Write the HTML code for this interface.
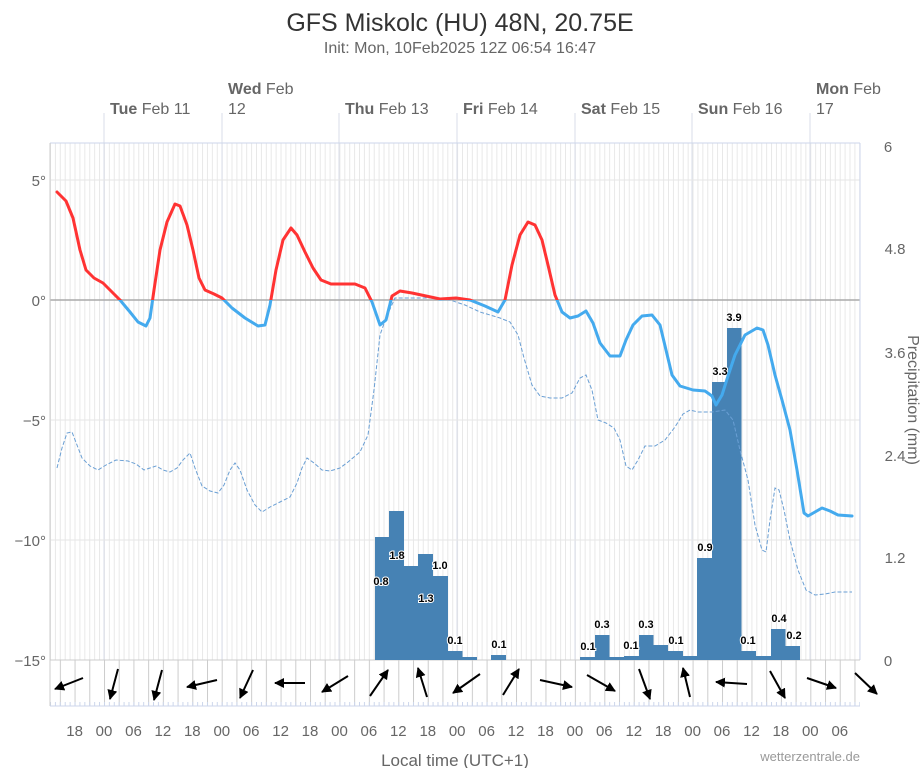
<!DOCTYPE html><html><head><meta charset="utf-8"><style>body{margin:0;background:#fff}svg{display:block;font-family:"Liberation Sans",sans-serif}</style></head><body>
<svg width="921" height="768" xmlns="http://www.w3.org/2000/svg">
<defs>
<clipPath id="above"><rect x="0" y="0" width="921" height="300"/></clipPath>
<clipPath id="below"><rect x="0" y="300" width="921" height="400"/></clipPath>
<marker id="ah" viewBox="0 0 10 10" refX="9" refY="5" markerWidth="5" markerHeight="5" orient="auto"><path d="M0,0 L10,5 L0,10 z" fill="#000"/></marker>
<pattern id="hr" patternUnits="userSpaceOnUse" x="50" y="0" width="4.905" height="10"><line x1="0.5" y1="0" x2="0.5" y2="10" stroke="#e8e8e8" stroke-width="1"/></pattern>
<pattern id="h3" patternUnits="userSpaceOnUse" x="59.85" y="0" width="14.715" height="10"><line x1="0.5" y1="0" x2="0.5" y2="10" stroke="#ccc" stroke-width="1"/></pattern>
<pattern id="tk" patternUnits="userSpaceOnUse" x="50" y="0" width="4.905" height="10"><line x1="0.5" y1="0" x2="0.5" y2="10" stroke="#ccd6eb" stroke-width="1"/></pattern>
</defs>
<text x="460" y="31" text-anchor="middle" font-size="25" fill="#333">GFS Miskolc (HU) 48N, 20.75E</text>
<text x="460" y="53" text-anchor="middle" font-size="16" fill="#666">Init: Mon, 10Feb2025 12Z 06:54 16:47</text>
<rect x="50" y="143" width="810" height="517" fill="url(#hr)"/>
<rect x="50" y="660" width="810" height="46" fill="url(#h3)"/>
<rect x="50" y="702" width="810" height="4" fill="url(#tk)"/>
<g stroke="#d8dde8" stroke-width="1">
<line x1="104" y1="113" x2="104" y2="660"/><line x1="222" y1="113" x2="222" y2="660"/><line x1="339" y1="113" x2="339" y2="660"/><line x1="457" y1="113" x2="457" y2="660"/><line x1="575" y1="113" x2="575" y2="660"/><line x1="692" y1="113" x2="692" y2="660"/><line x1="810" y1="113" x2="810" y2="660"/>
</g>
<g stroke="#e6e6e6"><line x1="50" y1="180" x2="860" y2="180"/><line x1="50" y1="420" x2="860" y2="420"/><line x1="50" y1="540" x2="860" y2="540"/></g>
<line x1="50" y1="300" x2="860" y2="300" stroke="#aaa" stroke-width="1.5"/>
<line x1="50" y1="143" x2="860" y2="143" stroke="#ccd6eb"/>
<line x1="50" y1="143" x2="50" y2="706" stroke="#ccc"/>
<line x1="860" y1="143" x2="860" y2="660" stroke="#ccd6eb"/>
<line x1="50" y1="660" x2="860" y2="660" stroke="#ccc"/>
<line x1="50" y1="706" x2="860" y2="706" stroke="#ccd6eb"/>
<g font-size="15" fill="#666" text-anchor="end"><text x="46" y="186">5°</text><text x="46" y="306">0°</text><text x="46" y="426">−5°</text><text x="46" y="546">−10°</text><text x="46" y="666">−15°</text></g>
<g font-size="15" fill="#666" text-anchor="middle"><text x="888" y="152">6</text><text x="895" y="254">4.8</text><text x="895" y="358">3.6</text><text x="895" y="461">2.4</text><text x="895" y="563">1.2</text><text x="888" y="666">0</text></g>
<text transform="translate(908,400) rotate(90)" text-anchor="middle" font-size="16" fill="#666">Precipitation (mm)</text>
<g font-size="16" fill="#666"><text x="110" y="114"><tspan font-weight="bold">Tue</tspan> Feb 11</text><text x="228" y="94"><tspan font-weight="bold">Wed</tspan> Feb</text><text x="228" y="114">12</text><text x="345" y="114"><tspan font-weight="bold">Thu</tspan> Feb 13</text><text x="463" y="114"><tspan font-weight="bold">Fri</tspan> Feb 14</text><text x="581" y="114"><tspan font-weight="bold">Sat</tspan> Feb 15</text><text x="698" y="114"><tspan font-weight="bold">Sun</tspan> Feb 16</text><text x="816" y="94"><tspan font-weight="bold">Mon</tspan> Feb</text><text x="816" y="114">17</text></g>
<g font-size="15" fill="#666" text-anchor="middle">
<text x="74.6" y="736">18</text><text x="104" y="736">00</text><text x="133.5" y="736">06</text><text x="162.9" y="736">12</text><text x="192.3" y="736">18</text><text x="221.8" y="736">00</text><text x="251.2" y="736">06</text><text x="280.6" y="736">12</text><text x="310" y="736">18</text><text x="339.5" y="736">00</text><text x="368.9" y="736">06</text><text x="398.3" y="736">12</text><text x="427.8" y="736">18</text><text x="457.2" y="736">00</text><text x="486.6" y="736">06</text><text x="516" y="736">12</text><text x="545.5" y="736">18</text><text x="574.9" y="736">00</text><text x="604.3" y="736">06</text><text x="633.8" y="736">12</text><text x="663.2" y="736">18</text><text x="692.6" y="736">00</text><text x="722" y="736">06</text><text x="751.5" y="736">12</text><text x="780.9" y="736">18</text><text x="810.3" y="736">00</text><text x="839.8" y="736">06</text>
</g>
<g fill="#4682b4">
<rect x="375" y="537" width="14.5" height="123"/><rect x="389" y="511" width="15" height="149"/><rect x="404" y="566" width="14.5" height="94"/><rect x="418" y="554" width="15" height="106"/><rect x="433" y="576" width="15" height="84"/><rect x="448" y="651" width="14.5" height="9"/><rect x="462" y="657" width="15" height="3"/><rect x="491" y="655" width="15" height="5"/>
<rect x="580" y="657" width="15" height="3"/><rect x="595" y="635" width="14.5" height="25"/><rect x="609" y="657" width="15" height="3"/><rect x="624" y="656" width="15" height="4"/><rect x="639" y="635" width="14.5" height="25"/><rect x="653" y="645" width="15" height="15"/><rect x="668" y="651" width="15" height="9"/><rect x="683" y="656" width="14.5" height="4"/><rect x="697" y="558" width="15" height="102"/><rect x="712" y="382" width="15" height="278"/><rect x="727" y="328" width="14.5" height="332"/><rect x="741" y="651" width="15" height="9"/><rect x="756" y="656" width="15" height="4"/><rect x="771" y="629" width="14.5" height="31"/><rect x="785" y="646" width="15" height="14"/>
</g>
<g font-size="11" font-weight="bold" fill="#000" text-anchor="middle" stroke="#fff" stroke-width="2" paint-order="stroke">
<text x="381" y="585">0.8</text><text x="397" y="559">1.8</text><text x="426" y="602">1.3</text><text x="440" y="569">1.0</text><text x="455" y="644">0.1</text><text x="499" y="648">0.1</text><text x="588" y="650">0.1</text><text x="602" y="628">0.3</text><text x="631" y="649">0.1</text><text x="646" y="628">0.3</text><text x="676" y="644">0.1</text><text x="705" y="551">0.9</text><text x="720" y="375">3.3</text><text x="734" y="321">3.9</text><text x="748" y="644">0.1</text><text x="779" y="622">0.4</text><text x="794" y="639">0.2</text>
</g>
<path fill="none" stroke="#6a9fd4" stroke-width="1" stroke-dasharray="4,2" d="M57,468 L62,448 L67,433 L72,432 L77,445 L82,458 L90,466 L98,470 L106,465 L116,460 L128,461 L136,464 L144,470 L150,468 L156,466 L163,470 L170,472 L177,468 L183,460 L190,453 L195,468 L202,486 L210,491 L218,493 L224,485 L230,470 L235,463 L240,470 L247,490 L255,505 L262,512 L270,507 L280,502 L290,497 L297,483 L302,468 L307,458 L314,463 L322,470 L330,471 L340,468 L348,462 L360,452 L368,435 L374,390 L380,335 L386,318 L395,298 L410,298 L430,298 L450,300 L465,305 L480,312 L500,318 L510,322 L518,335 L524,358 L532,385 L540,396 L550,398 L562,398 L572,393 L580,378 L586,375 L592,390 L598,420 L606,423 L614,428 L620,440 L626,466 L632,470 L638,460 L645,446 L655,446 L665,440 L675,427 L683,414 L690,410 L698,412 L712,412 L725,410 L733,420 L740,450 L748,480 L755,525 L762,550 L766,552 L770,520 L775,488 L779,490 L784,510 L790,540 L798,570 L806,590 L815,595 L825,594 L835,592 L852,592"/>
<g fill="none" stroke-width="3" stroke-linejoin="round" stroke-linecap="round">
<path clip-path="url(#below)" stroke="#44aaee" d="M57,192 L66,201 L73,218 L80,250 L86,270 L94,278 L103,283 L112,292 L120,300 L130,312 L138,322 L146,326 L150,318 L154,290 L160,250 L167,222 L175,204 L180,206 L187,225 L193,250 L199,278 L205,290 L214,294 L222,298 L232,308 L245,318 L258,326 L265,325 L270,305 L276,270 L283,240 L291,228 L297,235 L305,252 L313,268 L321,280 L331,284 L342,284 L355,284 L365,288 L372,302 L380,325 L386,320 L392,296 L400,291 L412,293 L426,296 L440,299 L456,298 L470,300 L485,306 L498,312 L505,300 L512,265 L520,235 L528,222 L535,225 L542,240 L548,265 L555,295 L562,312 L570,318 L578,316 L586,311 L593,323 L600,343 L610,356 L620,356 L626,340 L633,325 L642,316 L652,315 L660,325 L666,350 L672,375 L680,386 L693,390 L705,391 L712,396 L716,405 L722,395 L728,376 L735,355 L745,335 L757,328 L763,330 L768,345 L775,375 L782,400 L790,430 L797,470 L804,513 L808,516 L815,512 L822,508 L830,511 L838,515 L852,516"/>
<path clip-path="url(#above)" stroke="#ff3333" d="M57,192 L66,201 L73,218 L80,250 L86,270 L94,278 L103,283 L112,292 L120,300 L130,312 L138,322 L146,326 L150,318 L154,290 L160,250 L167,222 L175,204 L180,206 L187,225 L193,250 L199,278 L205,290 L214,294 L222,298 L232,308 L245,318 L258,326 L265,325 L270,305 L276,270 L283,240 L291,228 L297,235 L305,252 L313,268 L321,280 L331,284 L342,284 L355,284 L365,288 L372,302 L380,325 L386,320 L392,296 L400,291 L412,293 L426,296 L440,299 L456,298 L470,300 L485,306 L498,312 L505,300 L512,265 L520,235 L528,222 L535,225 L542,240 L548,265 L555,295 L562,312"/>
</g>
<g stroke="#000" stroke-width="2" marker-end="url(#ah)">
<line x1="83" y1="678" x2="55" y2="689"/><line x1="118" y1="669" x2="110" y2="699"/><line x1="162" y1="670" x2="154" y2="700"/><line x1="217" y1="680" x2="187" y2="687"/><line x1="253" y1="670" x2="240" y2="698"/><line x1="305" y1="683" x2="275" y2="683"/><line x1="348" y1="676" x2="322" y2="692"/><line x1="370" y1="696" x2="388" y2="670"/><line x1="427" y1="697" x2="418" y2="668"/><line x1="480" y1="674" x2="453" y2="693"/><line x1="503" y1="695" x2="519" y2="669"/><line x1="540" y1="680" x2="572" y2="687"/><line x1="587" y1="675" x2="615" y2="691"/><line x1="639" y1="669" x2="650" y2="699"/><line x1="690" y1="697" x2="683" y2="668"/><line x1="747" y1="684" x2="716" y2="682"/><line x1="770" y1="671" x2="785" y2="698"/><line x1="807" y1="678" x2="836" y2="688"/><line x1="855" y1="673" x2="877" y2="694"/>
</g>
<text x="455" y="766" text-anchor="middle" font-size="17" fill="#666">Local time (UTC+1)</text>
<text x="860" y="761" text-anchor="end" font-size="13" fill="#999">wetterzentrale.de</text>
</svg>
</body></html>
